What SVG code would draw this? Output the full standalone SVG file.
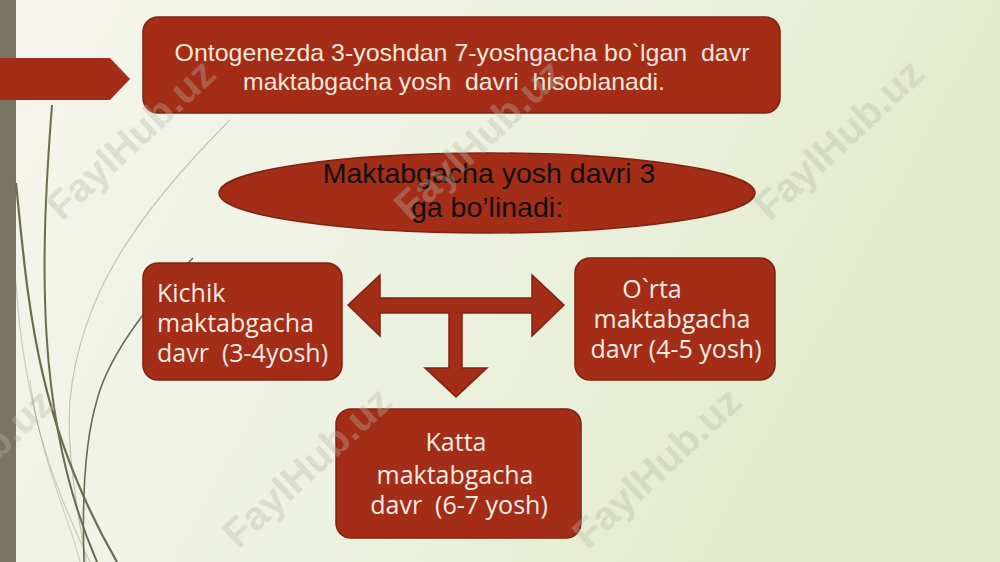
<svg xmlns="http://www.w3.org/2000/svg" width="1000" height="562" viewBox="0 0 1000 562">
<defs>
<linearGradient id="bg" x1="0" y1="0" x2="1" y2="0.3">
<stop offset="0" stop-color="#f6f5ee"/>
<stop offset="0.5" stop-color="#eef2e2"/>
<stop offset="1" stop-color="#e2ebcb"/>
</linearGradient>
<style>
text{white-space:pre}
.box{fill:#a32d17;stroke:#7e2311;stroke-width:1.5}
.t1{font-family:"Liberation Sans",Arial,sans-serif;font-size:24px;fill:#f3e6dc;text-anchor:middle}
.t2{font-family:"Liberation Sans",Arial,sans-serif;font-size:28.5px;fill:#111;text-anchor:middle}
.t3{font-family:"Open Sans","Noto Sans",sans-serif;font-size:25px;fill:#f6ece4}
.c{fill:none;stroke:#6d6b50}
.wm{font-family:"Liberation Sans",Arial,sans-serif;font-weight:bold;font-size:40px;fill:#b8b8a8;opacity:0.35}
</style>
</defs>
<rect width="1000" height="562" fill="url(#bg)"/>
<rect x="0" y="0" width="16" height="562" fill="#7a7462"/>
<g id="decor">
<path class="c" stroke-width="2" d="M52,105 C40,260 35,420 97,562"/>
<path class="c" stroke-width="2.2" d="M16,183 C28,300 35,420 117,562"/>
<path class="c" stroke-width="1.2" stroke-opacity="0.35" d="M230,120 C130,220 80,300 70,400 C66,460 80,520 86,562"/>
<path class="c" stroke-width="1.6" d="M193,258 C160,290 110,350 97,400 C85,440 82,500 84,562"/>
<path class="c" stroke-width="1.2" stroke-opacity="0.3" d="M16,283 C25,420 60,500 90,562"/>
<path class="c" stroke-width="1" stroke-opacity="0.3" d="M30,380 C40,460 70,520 80,562"/>
</g>
<g id="pointer">
<polygon points="0,58 110,58 130,79 110,100 0,100" fill="#a32d17"/>
</g>
<g id="top-box">
<rect class="box" x="143" y="17" width="637" height="96" rx="15"/>
<text class="t1"><tspan x="462" y="61" textLength="575" lengthAdjust="spacingAndGlyphs">Ontogenezda 3-yoshdan 7-yoshgacha bo`lgan  davr</tspan><tspan x="454" y="90" textLength="422" lengthAdjust="spacingAndGlyphs">maktabgacha yosh  davri  hisoblanadi.</tspan></text>
</g>
<g id="ellipse">
<ellipse class="box" cx="487" cy="193" rx="268" ry="40"/>
<text class="t2"><tspan x="489" y="183">Maktabgacha yosh davri 3</tspan><tspan x="487" y="217">ga bo’linadi:</tspan></text>
</g>
<g id="connectors">
<polygon class="box" points="348,305 380,275 380,298 532,298 532,275 564,305 532,336 532,313 462,313 462,368 487,368 456,397 425,368 449,368 449,313 380,313 380,336"/>
</g>
<g id="kichik">
<rect class="box" x="143" y="263" width="199" height="117" rx="15"/>
<text class="t3"><tspan x="157" y="302">Kichik</tspan><tspan x="157" y="332">maktabgacha</tspan><tspan x="157" y="362">davr  (3-4yosh)</tspan></text>
</g>
<g id="orta">
<rect class="box" x="575" y="258" width="200" height="122" rx="15"/>
<text class="t3" text-anchor="middle"><tspan x="652" y="298">O`rta</tspan><tspan x="672" y="328">maktabgacha</tspan><tspan x="676" y="358">davr (4-5 yosh)</tspan></text>
</g>
<g id="katta">
<rect class="box" x="336" y="409" width="245" height="129" rx="15"/>
<text class="t3" text-anchor="middle"><tspan x="456" y="451">Katta</tspan><tspan x="455" y="484">maktabgacha</tspan><tspan x="459" y="514">davr  (6-7 yosh)</tspan></text>
</g>
<g id="watermarks">
<text class="wm" transform="translate(62,222) rotate(-43)">FaylHub.uz</text>
<text class="wm" transform="translate(410,222) rotate(-43)">FaylHub.uz</text>
<text class="wm" transform="translate(770,222) rotate(-43)">FaylHub.uz</text>
<text class="wm" transform="translate(-100,552) rotate(-43)">FaylHub.uz</text>
<text class="wm" transform="translate(238,550) rotate(-43)">FaylHub.uz</text>
<text class="wm" transform="translate(588,550) rotate(-43)">FaylHub.uz</text>
</g>
</svg>
